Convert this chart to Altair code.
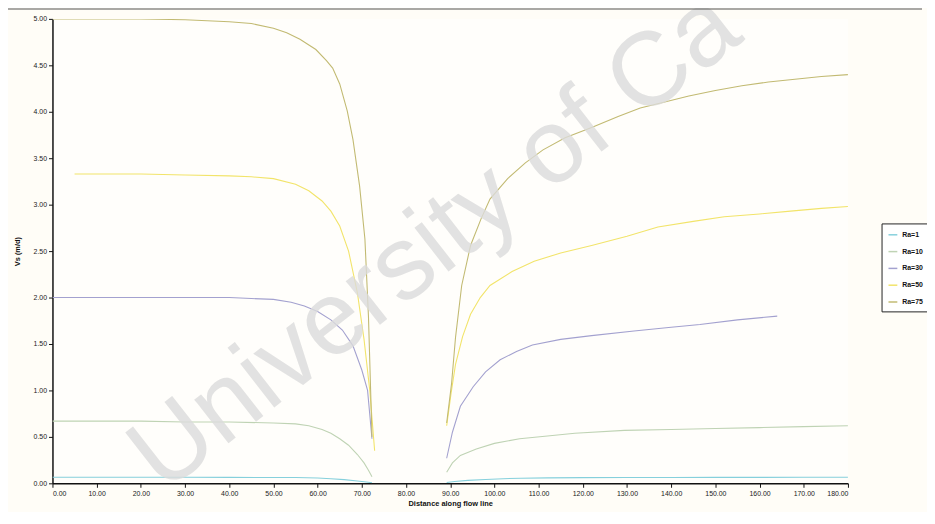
import altair as alt
import pandas as pd

series_names = ["Ra=1", "Ra=10", "Ra=30", "Ra=50", "Ra=75"]
series_colors = ["#86d0dc", "#bfd3b4", "#a3a1cf", "#f2e46a", "#c2ba72"]

# left branch (upstream of the gap) and right branch (downstream)
ra1_lx = [0, 10, 20, 30, 40, 50, 55, 60, 63, 66, 69, 71, 72.3]
ra1_ly = [0.065, 0.065, 0.065, 0.065, 0.064, 0.063, 0.062, 0.058, 0.050, 0.040, 0.025, 0.015, 0.006]
ra1_rx = [89.2, 91, 94, 98, 102, 106, 112, 120, 130, 140, 150, 160, 170, 180]
ra1_ry = [0.008, 0.02, 0.032, 0.042, 0.050, 0.055, 0.059, 0.061, 0.062, 0.063, 0.064, 0.064, 0.065, 0.065]

ra10_lx = [0, 10, 20, 30, 40, 50, 55, 58, 61, 63, 65, 67, 69, 70.5, 71.5, 72.3]
ra10_ly = [0.67, 0.67, 0.67, 0.66, 0.66, 0.65, 0.64, 0.62, 0.58, 0.54, 0.48, 0.41, 0.31, 0.22, 0.14, 0.07]
ra10_rx = [89.2, 90.5, 92.3, 95.9, 100, 105.7, 112, 118.2, 129.4, 140, 150, 160, 170, 180]
ra10_ry = [0.12, 0.22, 0.30, 0.37, 0.43, 0.48, 0.51, 0.54, 0.57, 0.58, 0.59, 0.60, 0.61, 0.62]

ra30_lx = [0, 10, 20, 30, 40, 45, 50, 54, 57, 60, 63, 65.6, 68, 70, 71.3, 72.3]
ra30_ly = [2.00, 2.00, 2.00, 2.00, 2.00, 1.99, 1.98, 1.95, 1.91, 1.85, 1.76, 1.65, 1.48, 1.22, 1.00, 0.48]
ra30_rx = [89.2, 90.5, 92.3, 95.2, 98, 101.3, 105, 108.6, 115, 122, 131.6, 140, 146.5, 155, 164]
ra30_ry = [0.27, 0.55, 0.83, 1.04, 1.20, 1.33, 1.42, 1.49, 1.55, 1.59, 1.64, 1.68, 1.71, 1.76, 1.80]

ra50_lx = [5, 10, 20, 30, 40, 45, 50, 55, 58, 61, 63, 65, 67, 69, 70.5, 71.8, 72.9]
ra50_ly = [3.33, 3.33, 3.33, 3.32, 3.31, 3.30, 3.28, 3.22, 3.15, 3.04, 2.93, 2.77, 2.50, 2.05, 1.55, 1.00, 0.35]
ra50_rx = [89.2, 90.2, 91.2, 92.8, 94.6, 96.8, 99, 104, 109, 115, 122, 130, 137, 145, 152, 160, 167, 174, 180]
ra50_ry = [0.62, 0.97, 1.28, 1.58, 1.82, 2.00, 2.13, 2.28, 2.39, 2.48, 2.56, 2.66, 2.76, 2.82, 2.87, 2.90, 2.93, 2.96, 2.98]

ra75_lx = [0, 10, 20, 30, 40, 45, 50, 53, 56, 59.6, 62, 63.4, 65, 66.7, 68, 69.5, 70.7, 71.5, 72.3]
ra75_ly = [5.00, 5.00, 5.00, 4.99, 4.97, 4.95, 4.90, 4.85, 4.78, 4.67, 4.55, 4.47, 4.30, 4.01, 3.70, 3.20, 2.63, 1.80, 0.50]
ra75_rx = [89.2, 90.3, 91.2, 92.6, 94.6, 97, 99, 103, 107, 111, 116, 122, 128, 133, 139, 144, 150, 156, 162, 168, 174, 180]
ra75_ry = [0.65, 1.07, 1.57, 2.13, 2.56, 2.85, 3.06, 3.28, 3.45, 3.59, 3.72, 3.83, 3.95, 4.04, 4.11, 4.17, 4.23, 4.28, 4.32, 4.35, 4.38, 4.40]

x_ticks = list(range(0, 181, 10))
y_ticks = [0.0, 0.5, 1.0, 1.5, 2.0, 2.5, 3.0, 3.5, 4.0, 4.5, 5.0]

branches = {
    "Ra=1": [(ra1_lx, ra1_ly), (ra1_rx, ra1_ry)],
    "Ra=10": [(ra10_lx, ra10_ly), (ra10_rx, ra10_ry)],
    "Ra=30": [(ra30_lx, ra30_ly), (ra30_rx, ra30_ry)],
    "Ra=50": [(ra50_lx, ra50_ly), (ra50_rx, ra50_ry)],
    "Ra=75": [(ra75_lx, ra75_ly), (ra75_rx, ra75_ry)],
}

rows = []
for name, parts in branches.items():
    for bi, (xs, ys) in enumerate(parts):
        for i, (xv, yv) in enumerate(zip(xs, ys)):
            rows.append({"series": name, "branch": f"{name}-{bi}", "order": i, "x": xv, "y": yv})
df = pd.DataFrame(rows)

FONT = "Liberation Sans"

lines = alt.Chart(df).mark_line(strokeWidth=1.1, clip=True).encode(
    x=alt.X("x:Q", scale=alt.Scale(domain=[0, 180], nice=False),
            axis=alt.Axis(values=x_ticks, format=".2f", title="Distance along flow line",
                          grid=False, titlePadding=3, titleFontSize=7.5, titleFontWeight="bold")),
    y=alt.Y("y:Q", scale=alt.Scale(domain=[0, 5], nice=False),
            axis=alt.Axis(values=y_ticks, format=".2f", title="Vs (m/d)",
                          grid=False, titlePadding=12, titleFontSize=7.5, titleFontWeight="bold")),
    color=alt.Color("series:N", scale=alt.Scale(domain=series_names, range=series_colors),
                    legend=alt.Legend(title=None, orient="none", legendX=839, legendY=207,
                                      symbolType="stroke", symbolSize=80, symbolStrokeWidth=1.5,
                                      labelFontSize=7, labelFont=FONT, labelFontWeight="bold",
                                      labelColor="#111", rowPadding=8, padding=6,
                                      strokeColor="#222", fillColor="#ffffff")),
    detail="branch:N",
    order="order:Q",
)

wm = pd.DataFrame({"t": ["University of Ca"]})
watermark = alt.Chart(wm).mark_text(
    angle=322, fontSize=106, font=FONT, color="#dcdcdc", opacity=0.8,
    align="left", baseline="alphabetic"
).encode(text="t:N", x=alt.value(112), y=alt.value(481))

border = alt.Chart(wm).mark_rule(color="#555", strokeWidth=1.2).encode(
    x=alt.value(-45), x2=alt.value(880), y=alt.value(-10)
)

chart = alt.layer(lines, watermark, border).properties(
    width=805, height=470,
    autosize=alt.AutoSizeParams(type="none"),
    padding={"left": 45, "top": 8, "right": 80, "bottom": 26},
    background="#fffdf7",
).configure_view(stroke=None, fill="#fffefb").configure_axis(
    domainColor="#111", domainWidth=1.5, tickColor="#111", tickSize=4,
    labelFontSize=7, labelFont=FONT, labelColor="#222", titleFont=FONT, titleColor="#111",
    labelPadding=2,
)

chart.save("out.html", embed_options={"renderer": "svg", "actions": False})
